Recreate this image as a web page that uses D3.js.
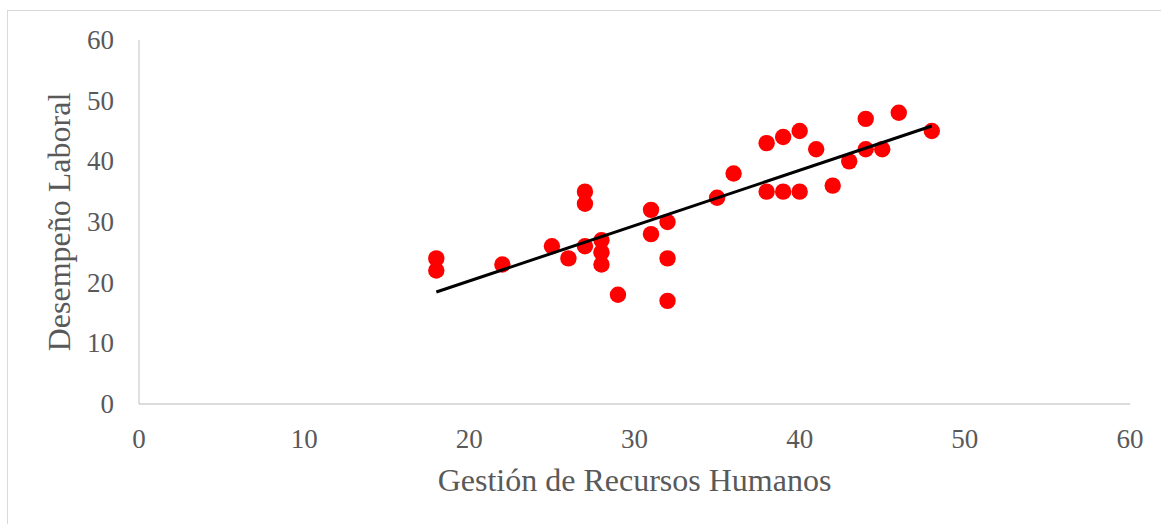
<!DOCTYPE html>
<html><head><meta charset="utf-8">
<script src="https://cdn.jsdelivr.net/npm/d3@7"></script>
<style>html,body{margin:0;padding:0;background:#fff;}</style>
</head><body>
<svg id="c" width="1161" height="524"></svg>
<script>
const gestion = [18,18,22,25,26,27,27,27,28,28,28,29,31,31,32,32,32,35,36,38,38,39,39,40,40,41,42,43,44,44,45,46,48];
const desempeno = [24,22,23,26,24,35,33,26,27,25,23,18,32,28,30,24,17,34,38,43,35,44,35,45,35,42,36,40,47,42,42,48,45];
const xTicks = [0,10,20,30,40,50,60];
const yTicks = [0,10,20,30,40,50,60];
const xTitle = "Gestión de Recursos Humanos";
const yTitle = "Desempeño Laboral";

const svg = d3.select("#c");
const font = "'Liberation Serif','Times New Roman',serif";
const textCol = "#595959";
const axisCol = "#d0d0d0";

// frame
svg.append("rect").attr("x",7.5).attr("y",10.5).attr("width",1200).attr("height",600)
  .attr("fill","none").attr("stroke","#d9d9d9").attr("stroke-width",1);

const x = d3.scaleLinear().domain([0,60]).range([139,1130]);
const y = d3.scaleLinear().domain([0,60]).range([404,40]);

// axes lines
svg.append("line").attr("x1",x(0)).attr("x2",x(60)).attr("y1",y(0)).attr("y2",y(0))
  .attr("stroke",axisCol).attr("stroke-width",1.3);
svg.append("line").attr("x1",x(0)).attr("x2",x(0)).attr("y1",y(0)).attr("y2",y(60))
  .attr("stroke",axisCol).attr("stroke-width",1.3);

// tick labels
svg.append("g").selectAll("text").data(xTicks).join("text")
  .attr("x",d=>x(d)).attr("y",448).attr("text-anchor","middle")
  .attr("font-family",font).attr("font-size",27).attr("fill",textCol).text(d=>d);
svg.append("g").selectAll("text").data(yTicks).join("text")
  .attr("x",114).attr("y",d=>y(d)+9).attr("text-anchor","end")
  .attr("font-family",font).attr("font-size",27).attr("fill",textCol).text(d=>d);

// titles
svg.append("text").attr("x",(x(0)+x(60))/2).attr("y",491).attr("text-anchor","middle")
  .attr("font-family",font).attr("font-size",32).attr("fill",textCol).text(xTitle);
svg.append("text").attr("transform",`translate(70,${(y(0)+y(60))/2}) rotate(-90)`)
  .attr("text-anchor","middle")
  .attr("font-family",font).attr("font-size",32).attr("fill",textCol).text(yTitle);

// regression
const n = gestion.length;
const mx = d3.mean(gestion), my = d3.mean(desempeno);
let sxy=0, sxx=0;
for(let i=0;i<n;i++){sxy+=(gestion[i]-mx)*(desempeno[i]-my); sxx+=(gestion[i]-mx)**2;}
const b = sxy/sxx, a = my - b*mx;
const x0 = d3.min(gestion), x1 = d3.max(gestion);

// points
const pts = gestion.map((g,i)=>({g, d:desempeno[i]}));
svg.append("g").selectAll("circle").data(pts).join("circle")
  .attr("cx",p=>x(p.g)).attr("cy",p=>y(p.d)).attr("r",8.2).attr("fill","#ff0000");

svg.append("line").attr("x1",x(x0)).attr("y1",y(a+b*x0)).attr("x2",x(x1)).attr("y2",y(a+b*x1))
  .attr("stroke","#000").attr("stroke-width",3);
</script>
</body></html>
